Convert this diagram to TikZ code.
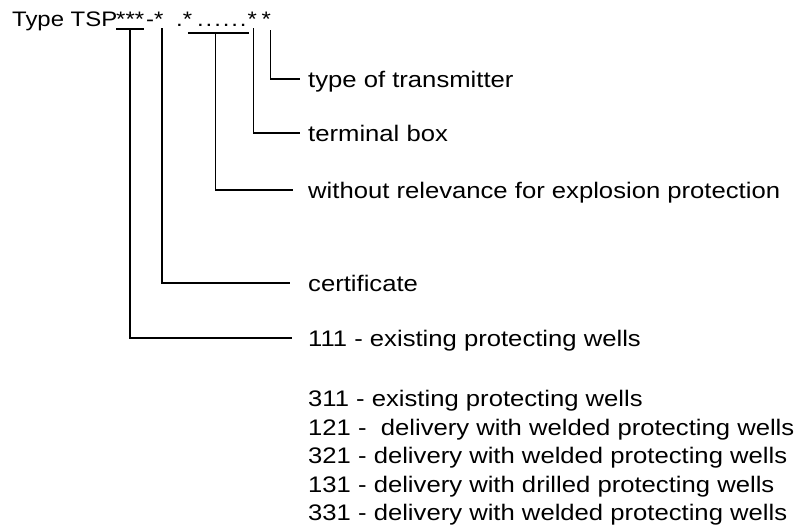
\documentclass[tikz,border=0pt]{standalone}
\usepackage{fontspec}
\setmainfont{Liberation Sans}[FakeStretch=1.14]
\usetikzlibrary{calc}

\begin{document}
\begin{tikzpicture}[x=1pt,y=-1pt,
    sym/.style={inner sep=0pt, anchor=base west, font=\fontsize{21}{24}\selectfont},
    lbl/.style={inner sep=0pt, anchor=base west, font=\fontsize{22.5}{28}\selectfont},
    lead/.style={line width=1.7pt}]
\useasboundingbox (0,0) rectangle (811,527);

% Type code
\node[sym] (ttl) at (12,27) {Type TSP};
\node[sym] (s1) at (116,27) {***};
\node[sym] (s2) at (146,27) {-*};
\node[sym] (s3) at (176,27) {.*};
\node[sym] (s4) at (197,27) {.\kern1.9pt.\kern1.9pt.\kern1.9pt.\kern1.9pt.\kern1.9pt.};
\node[sym] (s5) at (247.5,27) {*};
\node[sym] (s6) at (261.5,27) {*};

% Labels
\node[lbl] (ltx) at (308,87) {type of transmitter};
\node[lbl] (lterm) at (308,141) {terminal box};
\node[lbl] (lwo) at (308,198) {without relevance for explosion protection};
\node[lbl] (lcert) at (308,291) {certificate};
\node[lbl] (l111) at (308,346) {111 - existing protecting wells};

% Further codes
\node[lbl] (l311) at (308,406) {311 - existing protecting wells};
\node[lbl] (l121) at (308,435) {121 - \ delivery with welded protecting wells};
\node[lbl] (l321) at (308,463) {321 - delivery with welded protecting wells};
\node[lbl] (l131) at (308,492) {131 - delivery with drilled protecting wells};
\node[lbl] (l331) at (308,520) {331 - delivery with welded protecting wells};

% Underlines
\coordinate (u3a) at ([xshift=-4.5pt,yshift=-6pt]s3.south east);
\coordinate (u3b) at ([xshift=-3pt,yshift=-6pt]s5.south);
\draw[lead] ([yshift=-2pt]s1.south west) -- ([yshift=-2pt]s1.south east);
\draw[lead] (u3a) -- (u3b);

% Leaders
\draw[lead] ([xshift=4pt,yshift=-3pt]s6.south) |- ([xshift=-8pt,yshift=8pt]ltx.base west);
\draw[lead] ([xshift=1pt,yshift=-1pt]s5.south) |- ([xshift=-8pt,yshift=8pt]lterm.base west);
\draw[lead] ($(u3a)!0.45!(u3b)$) |- ([xshift=-15pt,yshift=8pt]lwo.base west);
\draw[lead] ([xshift=-2pt,yshift=-1pt]s2.south east) |- ([xshift=-18pt,yshift=8pt]lcert.base west);
\draw[lead] ([yshift=-2pt]s1.south) |- ([xshift=-16pt,yshift=8pt]l111.base west);
\end{tikzpicture}
\end{document}
